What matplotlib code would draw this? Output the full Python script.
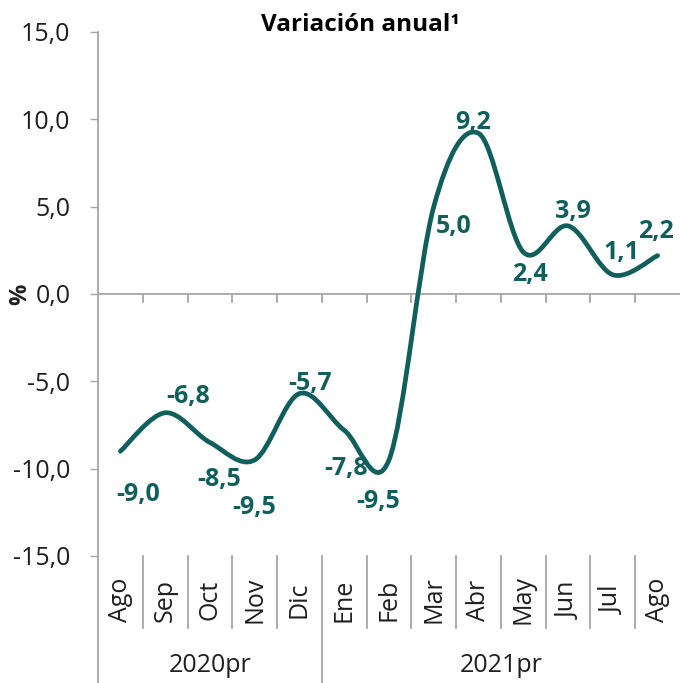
import matplotlib

matplotlib.use("Agg")
import matplotlib.pyplot as plt
import matplotlib.transforms as mtransforms
import numpy as np
from matplotlib.patches import PathPatch
from matplotlib.path import Path

months = ["Ago", "Sep", "Oct", "Nov", "Dic", "Ene", "Feb",
          "Mar", "Abr", "May", "Jun", "Jul", "Ago"]
values = [-9.0, -6.8, -8.5, -9.5, -5.7, -7.8, -9.5, 5.0, 9.2, 2.4, 3.9, 1.1, 2.2]
years = ["2020pr", "2021pr"]
year_counts = [5, 8]
yticks = [-15, -10, -5, 0, 5, 10, 15]

# label offsets from each point, in pixels (dx, dy with y up)
label_offsets = [(18, -43), (23, 16), (9, -37), (-1, -48), (11, 10), (2, -38),
                 (-11, -42), (20, -20), (-5, 11), (7, -22), (5, 14), (9, 22), (-2, 24)]

TEAL = "#115f5d"
AXIS_GREY = "#a6a6a6"
TEXT = "#1f1f1f"
FS = 18

plt.rcParams["font.family"] = ["Open Sans", "DejaVu Sans"]


def smooth_path(x, y):
    # Excel-style smoothed line: cubic bezier through each point (Catmull-Rom)
    pts = np.column_stack([x, y])
    n = len(pts)
    verts = [pts[0]]
    codes = [Path.MOVETO]
    for i in range(n - 1):
        p0 = pts[max(i - 1, 0)]
        p1 = pts[i]
        p2 = pts[i + 1]
        p3 = pts[min(i + 2, n - 1)]
        verts += [p1 + (p2 - p0) / 6, p2 - (p3 - p1) / 6, p2]
        codes += [Path.CURVE4] * 3
    return Path(verts, codes)


W, H = 680, 683
fig = plt.figure(figsize=(W / 100, H / 100), dpi=100)
ax_left, ax_top, ax_bottom = 98, 32, 556
ax = fig.add_axes([ax_left / W, 1 - ax_bottom / H, 1 - ax_left / W, (ax_bottom - ax_top) / H])
ax_h = ax_bottom - ax_top

n = len(months)
x = np.arange(n) + 0.5
ax.set_xlim(0, n)
ax.set_ylim(-15, 15)

for s in ax.spines.values():
    s.set_visible(False)

# y axis line running down through the category area
ax.plot([0, 0], [1, -(H - ax_bottom) / ax_h], transform=ax.transAxes,
        color=AXIS_GREY, lw=1.3, clip_on=False)
ax.axhline(0, color=AXIS_GREY, lw=1.3, zorder=1)
px_to_data = 30 / ax_h
for k in range(1, n):
    ax.plot([k, k], [0, -8 * px_to_data], color=AXIS_GREY, lw=1.3, zorder=1)

ax.set_xticks([])
ax.set_yticks(yticks)
ax.set_yticklabels([f"{v:.1f}".replace(".", ",") for v in yticks])
ax.tick_params(axis="y", length=5.8, width=1, color=AXIS_GREY, pad=14,
               labelsize=FS, labelcolor=TEXT)

path = smooth_path(x, values)
ax.add_patch(PathPatch(path, fill=False, edgecolor=TEAL, lw=3.4,
                       capstyle="round", joinstyle="round", zorder=3))

for xi, v, (dx, dy) in zip(x, values, label_offsets):
    ax.annotate(f"{v:.1f}".replace(".", ","), (xi, v), xytext=(dx * 0.72, dy * 0.72),
                textcoords="offset points", ha="center", va="center",
                fontsize=FS, fontweight="bold", color=TEAL, zorder=4)

# category axis: month labels, separators and year groups
trans = mtransforms.blended_transform_factory(ax.transData, ax.transAxes)
sep_end = -(628 - ax_bottom) / ax_h
for k in range(1, n):
    if k == year_counts[0]:
        continue
    ax.plot([k, k], [0, sep_end], transform=trans, color=AXIS_GREY, lw=1.3, clip_on=False)
ax.plot([year_counts[0]] * 2, [0, -(H - ax_bottom) / ax_h], transform=trans,
        color=AXIS_GREY, lw=1.3, clip_on=False)

for xi, m in zip(x, months):
    ax.text(xi, -(600 - ax_bottom) / ax_h, m, transform=trans, rotation=90,
            ha="center", va="center", fontsize=FS, color=TEXT)

start = 0
for yr, cnt in zip(years, year_counts):
    ax.text(start + cnt / 2, -(665 - ax_bottom) / ax_h, yr, transform=trans,
            ha="center", va="center", fontsize=FS, color=TEXT)
    start += cnt

fig.text(360 / W, 1 - 31 / H, "Variación anual¹", ha="center", va="baseline",
         fontsize=17.5, fontweight="bold", color="black")
fig.text(20 / W, 1 - 294 / H, "%", rotation=90, ha="center", va="center",
         fontsize=17, fontweight="bold", color=TEXT)

fig.savefig("out.png", dpi=100)
